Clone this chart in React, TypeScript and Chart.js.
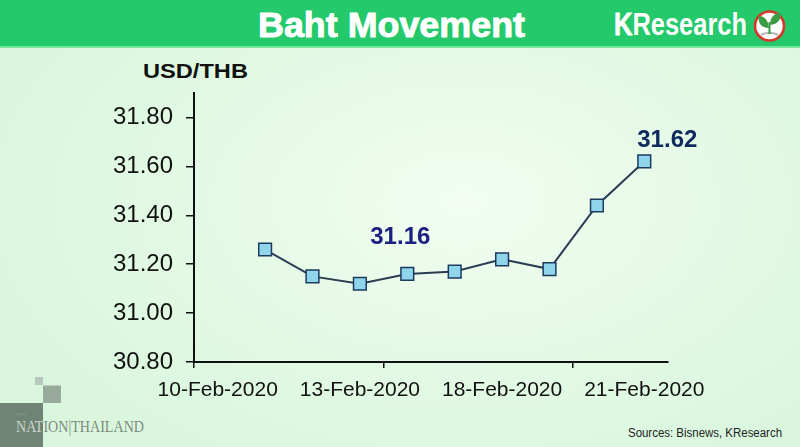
import React, { useEffect, useRef } from 'react';
import { Chart, registerables } from 'chart.js';

Chart.register(...registerables);

// ---------- data ----------
const DATES = [
  '10-Feb-2020', '11-Feb-2020', '12-Feb-2020', '13-Feb-2020', '14-Feb-2020',
  '17-Feb-2020', '18-Feb-2020', '19-Feb-2020', '20-Feb-2020', '21-Feb-2020',
];
const RATES: (number | null)[] = [null, 31.26, 31.15, 31.12, 31.16, 31.17, 31.22, 31.18, 31.44, 31.62];
const X_TICK_LABELS = ['10-Feb-2020', '13-Feb-2020', '18-Feb-2020', '21-Feb-2020'];
const Y_TICKS = [30.8, 31.0, 31.2, 31.4, 31.6, 31.8];
const Y_MIN = 30.8;
const Y_MAX = 31.9;
const X_TICK_MARK_EVERY = 4;
const CALLOUT_INDICES = [4, 9];

// ---------- styles ----------
const FONT = '"Liberation Sans", Arial, Helvetica, sans-serif';
const CALLOUT_STYLE: Record<number, { dx: number; dy: number; color: string }> = {
  4: { dx: -7, dy: -30, color: '#1b1f82' },
  9: { dx: 23, dy: -14, color: '#0f2a5c' },
};

const calloutPlugin = {
  id: 'callouts',
  afterDatasetsDraw(chart: any) {
    const meta = chart.getDatasetMeta(0);
    const ctx = chart.ctx;
    ctx.save();
    ctx.font = `bold 24px ${FONT}`;
    ctx.textAlign = 'center';
    ctx.textBaseline = 'alphabetic';
    CALLOUT_INDICES.forEach((i) => {
      const pt = meta.data[i];
      const v = RATES[i];
      if (!pt || v == null) return;
      const s = CALLOUT_STYLE[i];
      ctx.fillStyle = s.color;
      ctx.fillText(v.toFixed(2), pt.x + s.dx, pt.y + s.dy);
    });
    ctx.restore();
  },
};

export default function App() {
  const canvasRef = useRef<HTMLCanvasElement | null>(null);

  useEffect(() => {
    const canvas = canvasRef.current;
    if (!canvas) return;
    const chart = new Chart(canvas, {
      type: 'line',
      data: {
        labels: DATES,
        datasets: [
          {
            data: RATES,
            borderColor: '#2a3d52',
            borderWidth: 2,
            tension: 0,
            pointStyle: 'rect',
            pointRadius: 9,
            pointHoverRadius: 9,
            pointBackgroundColor: '#8fd5ec',
            pointBorderColor: '#1c3a5e',
            pointBorderWidth: 1.5,
          },
        ],
      },
      options: {
        responsive: false,
        animation: false,
        devicePixelRatio: 1,
        layout: { padding: { left: 0, top: 93, right: 132, bottom: 0 } },
        plugins: { legend: { display: false }, tooltip: { enabled: false }, title: { display: false } },
        events: [],
        scales: {
          x: {
            type: 'category',
            offset: true,
            afterFit: (scale: any) => {
              scale.height = 85;
            },
            grid: {
              offset: true,
              drawOnChartArea: false,
              drawTicks: true,
              tickLength: 6,
              lineWidth: 1.5,
              color: (ctx: any) =>
                ctx.index !== undefined && ctx.index % X_TICK_MARK_EVERY === 0 && ctx.index < DATES.length
                  ? '#111'
                  : 'rgba(0,0,0,0)',
            },
            border: { display: true, color: '#111', width: 2 },
            ticks: {
              autoSkip: false,
              maxRotation: 0,
              minRotation: 0,
              padding: 10,
              color: '#111',
              font: { family: FONT, size: 21 },
              callback: (_v: any, index: number) => (X_TICK_LABELS.includes(DATES[index]) ? DATES[index] : ''),
            },
          },
          y: {
            type: 'linear',
            min: Y_MIN,
            max: Y_MAX,
            afterFit: (scale: any) => {
              scale.width = 194;
            },
            afterBuildTicks: (scale: any) => {
              scale.ticks = Y_TICKS.map((v) => ({ value: v }));
            },
            grid: {
              drawOnChartArea: false,
              drawTicks: true,
              tickLength: 8,
              lineWidth: 1.5,
              color: '#111',
            },
            border: { display: true, color: '#111', width: 2 },
            ticks: {
              padding: 13,
              color: '#111',
              font: { family: FONT, size: 24 },
              callback: (v: any) => Number(v).toFixed(2),
            },
          },
        },
      },
      plugins: [calloutPlugin],
    } as any);
    return () => chart.destroy();
  }, []);

  return (
    <div
      style={{
        position: 'absolute',
        left: 0,
        top: 0,
        width: 800,
        height: 447,
        overflow: 'hidden',
        background: 'radial-gradient(ellipse 60% 65% at 58% 45%, #f3fdf2 0%, #e6fae7 45%, #daf7de 100%)',
      }}
    >
      <svg width={800} height={447} style={{ position: 'absolute', left: 0, top: 0 }}>
        <defs>
          <clipPath id="bigsq">
            <rect x={0} y={403} width={43} height={44} />
          </clipPath>
        </defs>
        {/* header */}
        <rect x={0} y={0} width={800} height={46.5} fill="#23c96a" />
        <rect x={0} y={46.5} width={800} height={1.3} fill="#62e392" />
        <text
          x={258}
          y={37}
          fill="#ffffff"
          stroke="#ffffff"
          strokeWidth={0.9}
          fontFamily={FONT}
          fontWeight="bold"
          fontSize={35}
          textLength={267}
          lengthAdjust="spacingAndGlyphs"
        >
          Baht Movement
        </text>
        <text x={614} y={35} fill="#ffffff" fontFamily={FONT} fontSize={32} textLength={133} lengthAdjust="spacingAndGlyphs">
          <tspan fontWeight={900} stroke="#ffffff" strokeWidth={0.8}>K</tspan>
          <tspan fontWeight="bold">Research</tspan>
        </text>
        {/* logo circle */}
        <circle cx={769.5} cy={26} r={14.5} fill="#ffffff" stroke="#d5372b" strokeWidth={2.6} />
        <path d="M761 35 Q769.5 30.5 778 35" stroke="#b9b9b9" strokeWidth={2.2} fill="none" />
        <path d="M769.5 34 L769.5 22" stroke="#3b9c45" strokeWidth={2} />
        <path d="M769 28 Q758 28 758.5 16 Q768 16 769 28 Z" fill="#3b9c45" />
        <path d="M770 25 Q770.5 13 781 13 Q781 24 770 25 Z" fill="#3b9c45" />

        {/* y-axis title */}
        <text x={143} y={78} fill="#111" fontFamily={FONT} fontWeight="bold" fontSize={21} textLength={105} lengthAdjust="spacingAndGlyphs">
          USD/THB
        </text>

        {/* Nation Thailand logo */}
        <rect x={35} y={377} width={8} height={8} fill="#b8c7bb" />
        <rect x={43} y={385.5} width={18} height={17.5} fill="#97aa9b" />
        <rect x={0} y={403} width={43} height={44} fill="#6f8474" />
        <text x={16} y={416} fill="#8c9b8f" fontFamily='"Liberation Serif", "Times New Roman", serif' fontSize={5}>
          THE
        </text>
        <text
          x={16}
          y={432}
          fill="#7d8b80"
          fontFamily='"Liberation Serif", "Times New Roman", serif'
          fontSize={17}
          textLength={128}
          lengthAdjust="spacingAndGlyphs"
        >
          NATION|THAILAND
        </text>
        <text
          x={16}
          y={432}
          fill="#c9d3cb"
          clipPath="url(#bigsq)"
          fontFamily='"Liberation Serif", "Times New Roman", serif'
          fontSize={17}
          textLength={128}
          lengthAdjust="spacingAndGlyphs"
        >
          NATION|THAILAND
        </text>

        {/* source */}
        <text x={628} y={437} fill="#222" fontFamily={FONT} fontSize={12} textLength={154} lengthAdjust="spacingAndGlyphs">
          Sources: Bisnews, KResearch
        </text>
      </svg>
      <canvas
        ref={canvasRef}
        width={800}
        height={447}
        style={{ position: 'absolute', left: 0, top: 0, width: 800, height: 447 }}
      />
    </div>
  );
}
